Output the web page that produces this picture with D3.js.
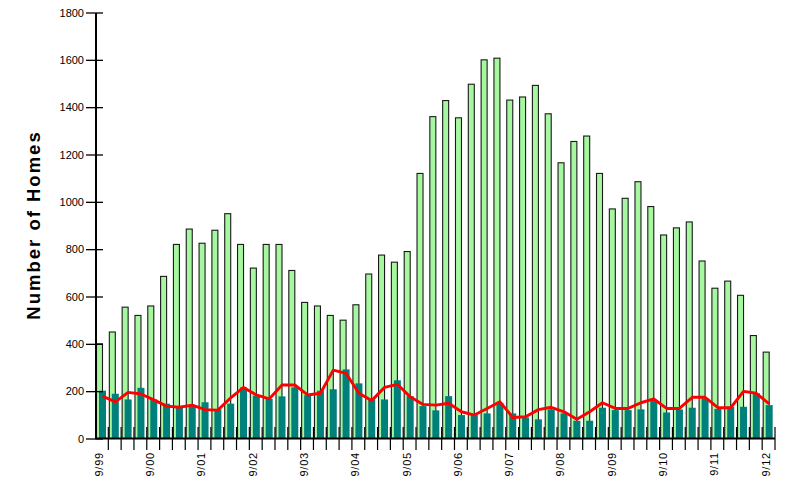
<!DOCTYPE html>
<html>
<head>
<meta charset="utf-8">
<script src="https://cdn.jsdelivr.net/npm/d3@7"></script>
<style>
  body { margin: 0; background: #fff; }
  svg { display: block; }
</style>
</head>
<body>
<div id="chart"></div>
<script>
// quarters from 9/99 through 9/12
var quarters = ["9/99","12/99","3/00","6/00","9/00","12/00","3/01","6/01","9/01","12/01",
  "3/02","6/02","9/02","12/02","3/03","6/03","9/03","12/03","3/04","6/04",
  "9/04","12/04","3/05","6/05","9/05","12/05","3/06","6/06","9/06","12/06",
  "3/07","6/07","9/07","12/07","3/08","6/08","9/08","12/08","3/09","6/09",
  "9/09","12/09","3/10","6/10","9/10","12/10","3/11","6/11","9/11","12/11",
  "3/12","6/12","9/12"];

// light green bars
var listings = [400, 450, 555, 520, 560, 685, 820, 885, 825, 880,
  950, 820, 720, 820, 820, 710, 575, 560, 520, 500,
  565, 695, 775, 745, 790, 1120, 1360, 1428, 1355, 1497,
  1600, 1607, 1430, 1443, 1492, 1372, 1165, 1255, 1278, 1120,
  970, 1015, 1085, 980, 860, 890, 915, 750, 635, 665,
  605, 435, 365];

// teal bars
var sales = [202, 189, 165, 214, 165, 147, 132, 140, 153, 123,
  147, 216, 181, 167, 178, 216, 183, 202, 208, 292,
  233, 165, 165, 246, 179, 137, 119, 179, 99, 99,
  106, 151, 106, 89, 81, 123, 106, 75, 75, 130,
  120, 120, 123, 163, 110, 123, 130, 170, 125, 134,
  134, 191, 141];

// red line
var trend = [179, 155, 195, 188, 163, 137, 132, 141, 122, 120,
  172, 216, 184, 167, 226, 226, 184, 191, 289, 275,
  191, 160, 216, 229, 176, 144, 141, 149, 113, 99,
  127, 155, 89, 92, 122, 132, 113, 81, 113, 151,
  127, 127, 151, 167, 127, 127, 174, 174, 130, 130,
  199, 191, 146];

var xLabels = ["9/99","9/00","9/01","9/02","9/03","9/04","9/05","9/06","9/07","9/08","9/09","9/10","9/11","9/12"];
var yTicks = [0, 200, 400, 600, 800, 1000, 1200, 1400, 1600, 1800];

var width = 806, height = 495;

var svg = d3.select("#chart").append("svg")
  .attr("width", width)
  .attr("height", height);

var x = d3.scaleBand()
  .domain(quarters)
  .range([95.5, 775])
  .padding(0);

var y = d3.scaleLinear()
  .domain([0, 1800])
  .range([438.5, 12.5]);

var bw = x.bandwidth();

// green bars
svg.append("g").selectAll("rect")
  .data(quarters)
  .enter().append("rect")
  .attr("x", function(d) { return x(d) + 1; })
  .attr("width", 6)
  .attr("y", function(d, i) { return y(listings[i]); })
  .attr("height", function(d, i) { return y(0) - y(listings[i]); })
  .attr("fill", "#a6f7a0")
  .attr("stroke", "#1a1a1a")
  .attr("stroke-width", 1.1);

// teal bars
svg.append("g").selectAll("rect")
  .data(quarters)
  .enter().append("rect")
  .attr("x", function(d) { return x(d) + 3.5; })
  .attr("width", 7)
  .attr("y", function(d, i) { return y(sales[i]); })
  .attr("height", function(d, i) { return y(0) - y(sales[i]); })
  .attr("fill", "#00807a");

// red line
var line = d3.line()
  .x(function(d, i) { return x(quarters[i]) + 7; })
  .y(function(d) { return y(d); });

svg.append("path")
  .datum(trend)
  .attr("d", line)
  .attr("fill", "none")
  .attr("stroke", "#ff0000")
  .attr("stroke-width", 2.9)
  .attr("stroke-linejoin", "round");

// x axis ticks at quarter boundaries
svg.append("g").selectAll("line")
  .data(quarters)
  .enter().append("line")
  .attr("x1", function(d) { return x(d) + bw; })
  .attr("x2", function(d) { return x(d) + bw; })
  .attr("y1", 427)
  .attr("y2", 450)
  .attr("stroke", "#000")
  .attr("stroke-width", 1.2);

svg.append("line")
  .attr("x1", 95.5).attr("x2", 775)
  .attr("y1", y(0)).attr("y2", y(0))
  .attr("stroke", "#000")
  .attr("stroke-width", 2);

// x labels
svg.append("g").selectAll("text")
  .data(xLabels)
  .enter().append("text")
  .attr("transform", function(d) { return "translate(" + (x(d) + 3.5) + ",452) rotate(-90)"; })
  .attr("dy", "0.35em")
  .attr("text-anchor", "end")
  .style("font-family", "'Liberation Sans', Arial, sans-serif")
  .style("font-size", "11px")
  .style("letter-spacing", "0.8px")
  .attr("fill", "#000")
  .text(function(d) { return d; });

// y axis
var yAxis = svg.append("g")
  .attr("transform", "translate(95.5,0)")
  .call(d3.axisLeft(y).tickValues(yTicks).tickSize(9.5).tickSizeOuter(0).tickPadding(2)
    .tickFormat(d3.format("d")));

yAxis.select(".domain").attr("stroke", "#000").attr("stroke-width", 2);
yAxis.selectAll(".tick line").attr("x1", 7.5).attr("stroke-width", 1.3);
yAxis.selectAll(".tick text")
  .style("font-family", "'Liberation Sans Narrow', 'Arial Narrow', sans-serif")
  .style("font-size", "11px")
  .attr("fill", "#000");

// y title
svg.append("text")
  .attr("transform", "translate(34,225) rotate(-90)")
  .attr("dy", "0.35em")
  .attr("text-anchor", "middle")
  .style("font-family", "'Liberation Sans', Arial, sans-serif")
  .style("font-size", "18.5px")
  .style("font-weight", "bold")
  .style("letter-spacing", "2px")
  .attr("fill", "#000")
  .text("Number of Homes");
</script>
</body>
</html>
